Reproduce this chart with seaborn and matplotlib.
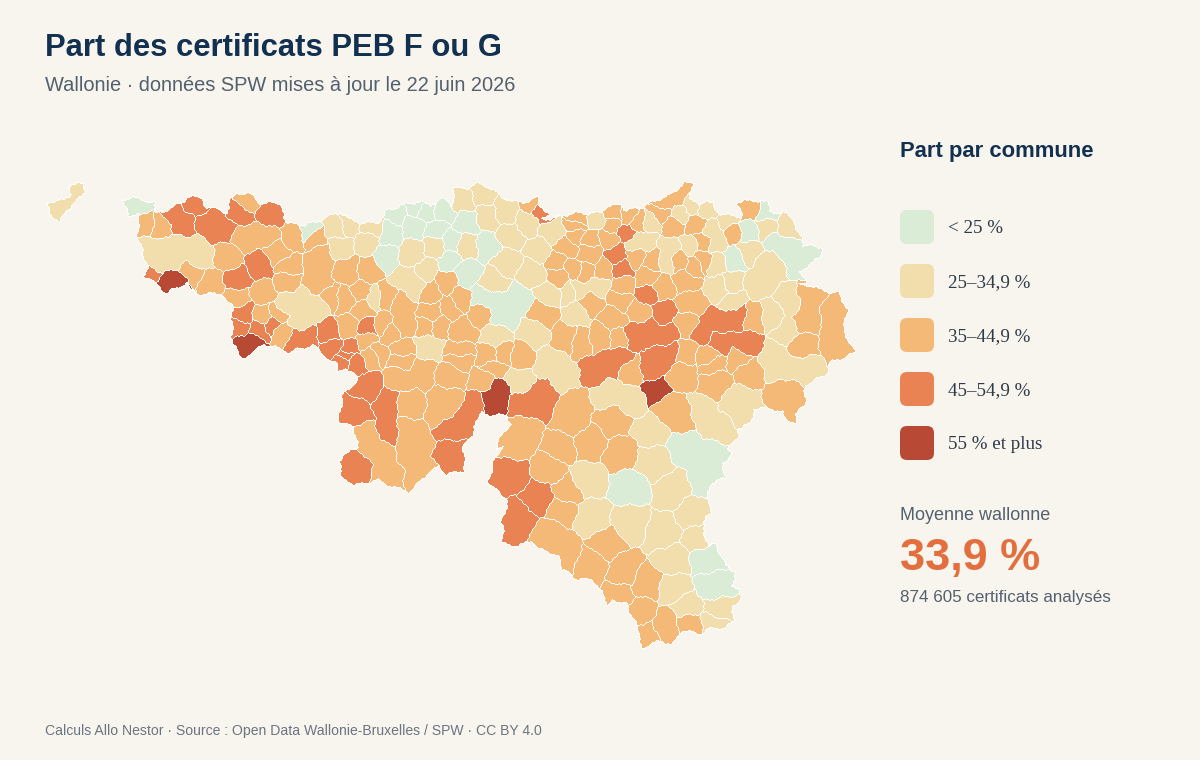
import numpy as np
import matplotlib
matplotlib.use("Agg")
import matplotlib.pyplot as plt
import seaborn as sns
from matplotlib.colors import ListedColormap
from matplotlib.patches import FancyBboxPatch
from matplotlib.path import Path

TITLE = "Part des certificats PEB F ou G"
SUBTITLE = "Wallonie · données SPW mises à jour le 22 juin 2026"
LEGEND_TITLE = "Part par commune"
CLASS_LABELS = ["< 25 %", "25–34,9 %", "35–44,9 %", "45–54,9 %", "55 % et plus"]
CLASS_COLORS = ["#DAEBD6", "#F2DDAC", "#F4B877", "#EA8354", "#B84A35"]
BORDER = "#FFFFFF"
BG = "#F8F5EE"

# Territory outlines
outline_comines = [(46,202),(63,200),(72,193),(69,186),(83,182),(86,192),(73,202),(67,212),(59,222),(50,213)]
outline_main = [(123,200),(133,197),(153,203),(156,213),(165,212),(185,200),(186,197),(203,197),(205,207),(217,209),(227,213),(228,203),(238,193),(252,194),(257,203),(282,203),(283,217),(287,222),(300,225),(317,222),(327,217),(340,212),(350,220),(363,223),(380,222),(385,210),(393,208),(407,203),(420,202),(430,205),(442,198),(453,205),(453,188),(467,188),(480,183),(497,193),(503,198),(520,203),(537,197),(538,205),(548,213),(540,220),(557,217),(573,213),(587,213),(602,212),(607,207),(622,203),(625,210),(640,208),(653,202),(670,195),(683,183),(692,182),(690,200),(698,203),(703,202),(713,203),(718,213),(727,215),(742,217),(738,202),(753,200),(767,202),(770,212),(787,213),(800,233),(803,245),(823,247),(818,257),(800,273),(807,282),(797,285),(810,285),(828,292),(838,293),(847,310),(843,333),(855,352),(843,358),(830,362),(828,372),(805,385),(805,405),(797,412),(795,422),(788,422),(782,412),(768,408),(753,408),(752,423),(738,428),(737,437),(728,448),(732,453),(722,463),(725,477),(710,483),(707,502),(712,513),(702,522),(707,545),(715,544),(723,560),(735,573),(732,585),(740,590),(739,602),(733,605),(733,620),(725,628),(708,628),(702,634),(680,630),(673,645),(660,640),(643,648),(638,642),(640,633),(635,623),(625,603),(613,600),(606,607),(606,598),(593,580),(573,578),(568,572),(563,570),(557,555),(538,548),(530,540),(517,546),(503,543),(502,520),(508,498),(502,495),(488,483),(495,457),(502,447),(495,448),(502,435),(510,423),(507,415),(490,415),(480,412),(472,433),(463,447),(465,470),(447,474),(438,465),(408,492),(377,480),(353,485),(342,477),(339,463),(345,453),(358,448),(353,427),(338,422),(343,395),(357,380),(355,372),(345,368),(338,373),(335,363),(320,352),(313,345),(287,352),(277,347),(263,344),(243,360),(233,345),(232,337),(232,307),(222,293),(195,294),(187,283),(167,293),(155,283),(145,277),(147,268),(138,237),(137,233),(140,215),(128,215)]

# Communes by class: each commune is a list of anchor points
communes_green = [
    [(138,206)],[(308,233)],[(385,257)],[(390,233)],[(413,225)],[(398,213)],[(413,207)],[(427,212)],[(442,213)],
    [(437,228)],[(467,222)],[(450,242)],[(448,260)],[(487,245)],[(467,273)],[(497,303),(517,300),(503,317),(482,298)],
    [(767,212)],[(748,232)],[(777,242),(787,250),(803,260),(817,252)],[(733,258)],
    [(687,447),(713,453),(707,480)],[(630,487)],[(707,558)],[(713,587)],
]
communes_cream = [
    [(58,208),(76,190)],[(150,250),(173,248),(193,250),(155,263),(168,262),(200,258)],[(285,305),(300,300),(318,305),(300,320)],
    [(338,228)],[(348,225)],[(372,227)],[(340,247)],[(367,242)],[(412,253)],[(437,247)],[(427,270)],[(405,280),(415,287)],
    [(467,245)],[(463,200)],[(482,193)],
    [(505,212)],[(487,217)],[(510,235)],[(527,223)],[(552,233)],[(540,250)],[(507,262)],[(532,272)],[(493,282)],
    [(550,295)],[(570,292)],[(577,313)],[(533,333)],[(497,335)],[(372,298)],[(427,345)],[(595,220)],
    [(635,242),(645,240)],[(650,223)],[(682,213)],[(690,207)],[(670,247),(665,260)],[(690,245)],[(708,208)],
    [(717,242),(713,230)],[(727,220)],[(767,227)],[(787,227)],[(748,250)],[(717,263)],[(770,263),(757,283)],[(730,283)],
    [(720,287)],[(733,302)],[(772,315)],[(790,303),(787,330)],[(773,357),(780,365),(805,368)],[(577,290),(597,285)],
    [(518,382)],[(550,363),(563,378)],[(607,393),(633,400)],[(700,413),(720,430)],[(737,400),(743,413)],[(650,430)],
    [(653,463)],[(587,480)],[(673,490)],[(590,517)],[(630,523)],[(693,513)],[(663,533)],[(700,537)],[(672,560)],
    [(673,588)],[(688,607)],[(717,610)],[(713,622)],
]
communes_light = [
    [(146,223)],[(160,225)],[(247,202)],[(245,238),(265,235)],[(227,257)],[(295,237)],[(277,253)],[(288,267)],[(192,274)],
    [(210,282)],[(237,298)],[(263,293)],[(287,280)],[(263,315)],[(277,313)],[(282,333)],[(320,255),(317,270),(317,283)],[(313,238)],
    [(532,202)],[(565,248)],[(557,260)],[(560,277)],[(572,270)],[(577,227)],[(543,313)],[(480,313)],[(460,300)],
    [(445,282)],[(450,307)],[(430,292)],[(427,327)],[(437,325)],[(432,313)],[(462,330)],[(400,303),(405,325)],[(387,297)],
    [(368,270)],[(348,270)],[(345,300)],[(362,293)],[(363,308)],[(382,325)],[(330,298)],[(348,327)],[(403,350)],
    [(375,352)],[(367,340)],[(390,333)],[(460,353)],[(490,357)],[(520,355)],[(567,337)],[(580,218)],[(615,213)],
    [(627,215)],[(612,225)],[(638,223)],[(590,238)],[(608,238)],[(577,233)],[(660,213)],[(677,195),(663,202)],[(673,227)],
    [(695,225)],[(702,242)],[(680,260)],[(693,265)],[(703,260)],[(733,233)],[(750,208)],[(808,300),(805,320)],
    [(835,313),(835,340),(846,351)],[(802,345)],[(785,395),(790,412)],[(752,317)],[(740,360)],[(710,357)],[(690,303)],[(685,280)],
    [(647,277)],[(663,287)],[(635,257)],[(653,260)],[(623,285)],[(620,300)],[(640,310)],[(613,317)],[(590,303)],
    [(603,270)],[(590,253)],[(587,273)],[(600,337)],[(580,340)],[(620,340)],[(687,323)],[(683,353)],
    [(573,403),(570,420)],[(633,370)],[(680,373)],[(713,363)],[(747,370)],[(717,382)],[(667,407),(683,417)],[(613,420)],
    [(620,453)],[(590,443)],[(560,447)],[(523,430),(517,443)],[(548,468)],[(568,492)],[(563,510)],
    [(552,535),(563,553)],[(607,545)],[(592,565)],[(623,570)],[(647,583)],[(618,598)],[(640,612)],[(645,635)],[(665,625)],[(690,623)],
    [(408,405)],[(443,410),(447,398)],[(377,450),(365,435),(385,478)],[(413,447),(405,430),(423,477)],[(400,377),(420,372)],[(403,360)],[(450,377)],[(460,357)],
    [(493,367)],[(503,353)],[(373,353)],[(485,380)],
]
communes_orange = [
    [(172,213),(183,222)],[(196,205)],[(207,222),(222,228)],[(240,212)],[(270,215)],[(260,265)],[(151,274)],[(237,280)],
    [(243,313)],[(238,328)],[(260,330)],[(272,325)],[(297,340),(305,338)],[(368,327)],[(330,333)],[(347,353)],[(333,347)],
    [(348,350)],[(343,363)],[(353,363)],[(542,212)],[(627,232)],[(647,295)],[(663,313)],[(622,268)],[(617,255)],
    [(703,330),(720,322),(738,315)],[(720,342),(747,345)],[(633,337),(650,330),(667,335)],[(660,360),(672,352),(648,368)],
    [(596,372),(610,362),(620,355)],[(537,403),(543,395),(523,403)],[(512,475)],[(538,497)],[(517,517)],[(368,388)],[(357,412)],
    [(387,403),(390,430)],[(453,455)],[(453,425),(478,405)],[(358,468)],
]
communes_dark = [
    [(164,285),(172,280),(179,284)],[(243,345),(253,342)],[(655,392)],[(490,398),(498,390),(490,408)],
]
class_communes = [communes_green, communes_cream, communes_light, communes_orange, communes_dark]

# Build the map grid
X0, X1, Y0, Y1 = 40, 860, 175, 655
SCALE = 2
xs = X0 + (np.arange((X1 - X0) * SCALE) + 0.5) / SCALE
ys = Y0 + (np.arange((Y1 - Y0) * SCALE) + 0.5) / SCALE
gx, gy = np.meshgrid(xs, ys)
wx = gx + 1.2 * np.sin(gy * 0.31 + gx * 0.07) + 0.4 * np.sin(gy * 1.05)
wy = gy + 1.2 * np.sin(gx * 0.33 - gy * 0.06) + 0.4 * np.sin(gx * 1.15)

sx, sy, sid, cid = [], [], [], []
n = 0
for c, group in enumerate(class_communes):
    for commune in group:
        for x, y in commune:
            sx.append(x); sy.append(y); sid.append(n)
        cid.append(c)
        n += 1
sx = np.array(sx, dtype=np.float32); sy = np.array(sy, dtype=np.float32)
sid = np.array(sid); cid = np.array(cid)

pts = np.column_stack([wx.ravel(), wy.ravel()])
inside = Path(outline_main).contains_points(pts) | Path(outline_comines).contains_points(pts)
inside = inside.reshape(gx.shape)

ids = np.full(gx.shape, -1, dtype=int)
wxf = wx.astype(np.float32); wyf = wy.astype(np.float32)
for r in range(gx.shape[0]):
    cols = np.where(inside[r])[0]
    if len(cols) == 0:
        continue
    d = (wxf[r, cols, None] - sx) ** 2 + (wyf[r, cols, None] - sy) ** 2
    ids[r, cols] = sid[d.argmin(axis=1)]

edge = np.zeros(ids.shape, dtype=bool)
dh = ids[:, 1:] != ids[:, :-1]
dv = ids[1:, :] != ids[:-1, :]
edge[:, 1:] |= dh; edge[:, :-1] |= dh
edge[1:, :] |= dv; edge[:-1, :] |= dv

grid = np.where(ids >= 0, cid[np.clip(ids, 0, None)], 0).astype(float)
grid[edge] = 5
mask = (ids < 0) & ~edge

fig = plt.figure(figsize=(12, 7.6), dpi=100, facecolor=BG)
ax_map = fig.add_axes([X0 / 1200, 1 - Y1 / 760, (X1 - X0) / 1200, (Y1 - Y0) / 760])
sns.heatmap(grid, mask=mask, cmap=ListedColormap(CLASS_COLORS + [BORDER]), vmin=-0.5, vmax=5.5,
            cbar=False, xticklabels=False, yticklabels=False, linewidths=0, ax=ax_map)
ax_map.set_facecolor(BG)
ax_map.set_axis_off()

ax = fig.add_axes([0, 0, 1, 1])
ax.set_xlim(0, 1200); ax.set_ylim(760, 0); ax.axis("off"); ax.patch.set_alpha(0)

SANS = "Liberation Sans"
SERIF = "Liberation Serif"
PX = 0.72
ax.text(45, 56, TITLE, fontsize=31 * PX, fontweight="bold", color="#12304F", family=SANS)
ax.text(45, 91, SUBTITLE, fontsize=20 * PX, color="#53606E", family=SANS)
ax.text(900, 157.5, LEGEND_TITLE, fontsize=22 * PX, fontweight="bold", color="#12304F", family=SANS)
for i, (label, col) in enumerate(zip(CLASS_LABELS, CLASS_COLORS)):
    top = 210 + 54 * i
    ax.add_patch(FancyBboxPatch((907, top + 7), 20, 20, boxstyle="round,pad=7,rounding_size=7",
                                facecolor=col, edgecolor="none"))
    ax.text(948, top + 16.5, label, fontsize=19 * PX, color="#2F3B48", family=SERIF, va="center_baseline")
ax.text(900, 520, "Moyenne wallonne", fontsize=18 * PX, color="#53606E", family=SANS)
ax.text(900, 570, "33,9 %", fontsize=45 * PX, fontweight="bold", color="#E36F3F", family=SANS)
ax.text(900, 602, "874 605 certificats analysés", fontsize=17 * PX, color="#53606E", family=SANS)
ax.text(45, 735, "Calculs Allo Nestor · Source : Open Data Wallonie-Bruxelles / SPW · CC BY 4.0",
        fontsize=14 * PX, color="#6B7480", family=SANS)

fig.savefig("out.png", dpi=100, facecolor=BG)
